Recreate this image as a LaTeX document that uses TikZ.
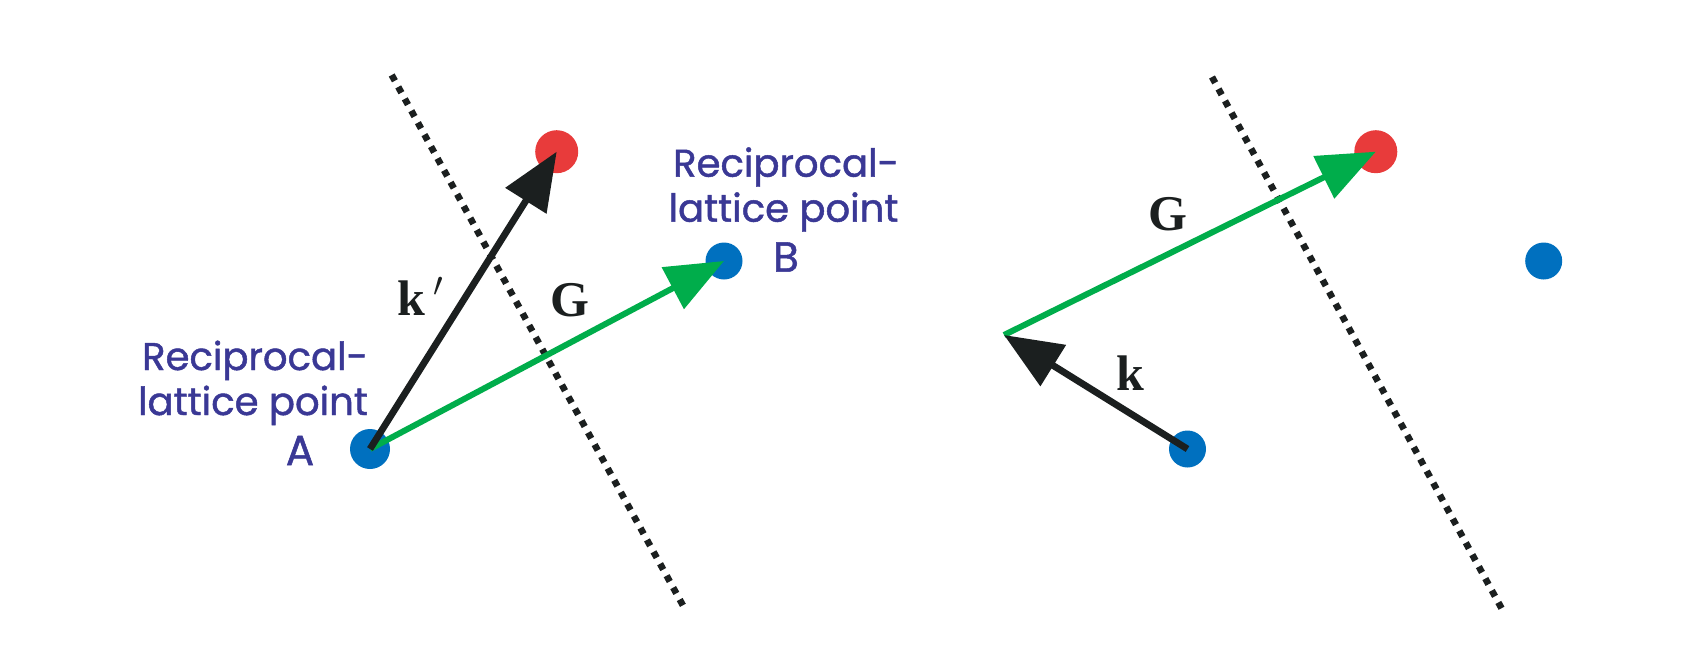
\documentclass[tikz,border=0pt]{standalone}
\usepackage{fontspec}
\setmainfont{Poppins}
\newfontfamily\capfont{Poppins}[FakeBold=1.2]
\newfontfamily\lblfont{Liberation Serif}
\usetikzlibrary{arrows.meta}
\definecolor{dotblue}{HTML}{0070BF}
\definecolor{dotred}{HTML}{E83B3B}
\definecolor{vecgreen}{HTML}{00AD4B}
\definecolor{vecblack}{HTML}{1B1F1F}
\definecolor{txtblue}{HTML}{3A3895}
\tikzset{
  bluedot/.style={circle, fill=dotblue, inner sep=0pt, minimum size=18.5pt},
  reddot/.style={circle, fill=dotred, inner sep=0pt, minimum size=21.5pt},
  plane/.style={line width=3.3pt, dash pattern=on 3.3pt off 3.5pt, vecblack},
  kvec/.style={line width=3.4pt, vecblack, -{Triangle[length=29pt, width=23.5pt]}},
  gvec/.style={line width=3pt, vecgreen, -{Triangle[length=29pt, width=23pt]}},
  caption/.style={txtblue, inner sep=0pt, anchor=base, font=\capfont\fontsize{19.3}{22}\selectfont},
  letter/.style={caption, font=\capfont\fontsize{21}{24}\selectfont},
  vlabel/.style={inner sep=0pt, anchor=base, vecblack, font=\lblfont\bfseries\fontsize{25}{28}\selectfont}
}
\begin{document}
\begin{tikzpicture}[x=0.5pt, y=-0.5pt]
\useasboundingbox (0,0) rectangle (1697,648);
% left panel
\coordinate (P1a) at (391.7,75);
\coordinate (P1b) at (686,611);
\draw[plane] (P1a) -- (P1b);
\node[bluedot, minimum size=20pt] (A) at (370,449) {};
\node[bluedot] (B) at (724,261) {};
\node[reddot] (R1) at (556.7,151.7) {};
\draw[gvec] (A.center) -- (B.center);
\draw[kvec] (A.center) -- (R1.center);
\node[vlabel] (kp) at (421,315) {k\,$'$};
\node[vlabel] (G1) at (570,316.7) {G};
\node[caption] (la1) at (255,370) {Reciprocal-};
\node[caption] (la2) at (253,415) {lattice point};
\node[letter] (laA) at (300,465) {A};
\node[caption] (lb1) at (786,176.7) {Reciprocal-};
\node[caption] (lb2) at (783.5,221.7) {lattice point};
\node[letter] (lbB) at (786,271.7) {B};
% right panel
\coordinate (P2a) at (1212,77);
\coordinate (P2b) at (1503,611);
\draw[plane] (P2a) -- (P2b);
\node[bluedot] (C) at (1187.5,449) {};
\node[bluedot] (D) at (1543.7,261) {};
\node[reddot] (R2) at (1375.8,151.7) {};
\coordinate (V) at (1004,335);
\draw[gvec] (V) -- (R2.center);
\draw[kvec] (C.center) -- (V);
\node[vlabel] (G2) at (1167.5,230) {G};
\node[vlabel] (k) at (1130,390) {k};
\end{tikzpicture}
\end{document}
